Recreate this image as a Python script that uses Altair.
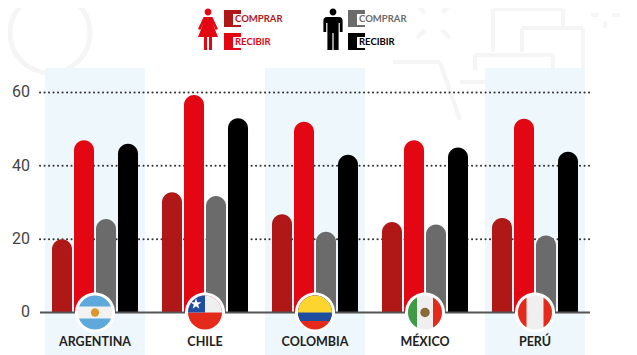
import math
import altair as alt
import pandas as pd

countries = ["ARGENTINA", "CHILE", "COLOMBIA", "MÉXICO", "PERÚ"]
shaded = ["ARGENTINA", "COLOMBIA", "PERÚ"]
series = ["Mujer comprar", "Mujer recibir", "Hombre comprar", "Hombre recibir"]
colors = ["#b01717", "#e30613", "#6b6b6b", "#000000"]
mujer_comprar = [20, 32.8, 26.8, 24.7, 25.8]
mujer_recibir = [47, 59.3, 52, 47, 52.8]
hombre_comprar = [25.5, 31.8, 22, 24, 21]
hombre_recibir = [46, 53, 43, 45, 43.8]
ticks = [0, 20, 40, 60]

FONT = "Lato"
rows = []
for s, vals in zip(series, [mujer_comprar, mujer_recibir, hombre_comprar, hombre_recibir]):
    for c, v in zip(countries, vals):
        rows.append({"pais": c, "serie": s, "valor": v})
df = pd.DataFrame(rows)

xs = alt.Scale(domain=countries, paddingInner=0, paddingOuter=0)
ys = alt.Scale(domain=[-11.59, 83.03], nice=False, zero=False)
X = alt.X("pais:N", scale=xs, axis=None, sort=countries)
Ynone = alt.Y("v:Q", scale=ys, axis=None)

layers = []
one = pd.DataFrame({"k": [1]})

# faint background line art (page coordinates; plot origin is page 40,8)
FAINT = "#f5f5f5"
layers.append(alt.Chart(one).mark_point(shape="circle", size=6400, color=FAINT, strokeWidth=5, opacity=1, filled=False)
              .encode(x=alt.value(10), y=alt.value(25)))
art_lines = [
    (493, 52, 493, 9), (493, 9, 563, 9), (563, 9, 563, 27),
    (522, 52, 522, 28), (522, 28, 583, 28), (583, 28, 583, 68),
    (475, 70, 475, 55), (475, 55, 553, 55), (553, 55, 553, 68), (460, 82, 485, 82),
    (393, 62, 440, 62), (440, 62, 460, 120),
    (417, 5, 425, 13), (450, 5, 442, 13), (417, 38, 425, 30), (450, 38, 442, 30),
    (605, 0, 605, 8), (605, 21, 605, 28), (591, 15, 598, 15), (612, 15, 620, 15),
]
for x1, y1, x2, y2 in art_lines:
    layers.append(alt.Chart(one).mark_rule(color=FAINT, strokeWidth=4)
                  .encode(x=alt.value(x1 - 40), x2=alt.value(x2 - 40), y=alt.value(y1 - 8), y2=alt.value(y2 - 8)))

# shaded bands
layers.append(
    alt.Chart(pd.DataFrame({"pais": shaded, "v": [66.7] * 3, "v0": [-11.59] * 3}))
    .mark_bar(size=100, color="#eef7fc")
    .encode(x=X, y=Ynone, y2="v0:Q")
)

# dotted grid
layers.append(
    alt.Chart(pd.DataFrame({"v": ticks[1:]}))
    .mark_rule(color="#333333", strokeWidth=2, strokeDash=[0.1, 4.4], strokeCap="round")
    .encode(y=Ynone, x=alt.value(0), x2=alt.value(552))
)

# y tick labels
layers.append(
    alt.Chart(pd.DataFrame({"v": ticks}))
    .mark_text(font="Roboto", fontSize=16, color="#444444", align="right", baseline="middle")
    .encode(y=Ynone, x=alt.value(-10), text="v:Q")
)

# bars
layers.append(
    alt.Chart(df)
    .mark_bar(cornerRadiusTopLeft=10, cornerRadiusTopRight=10)
    .encode(
        x=X,
        xOffset=alt.XOffset("serie:N", sort=series,
                            scale=alt.Scale(domain=series, paddingInner=0.09, paddingOuter=0.545)),
        y=alt.Y("valor:Q", scale=ys, axis=None),
        y2=alt.Y2(datum=0),
        color=alt.Color("serie:N", scale=alt.Scale(domain=series, range=colors), legend=None),
    )
)

# baseline
layers.append(
    alt.Chart(pd.DataFrame({"v": [0]}))
    .mark_rule(color="#555555", strokeWidth=2)
    .encode(y=Ynone, x=alt.value(0), x2=alt.value(550))
)

# flags
def f(n):
    return f"{n:.4f}"
def cap_top(y):
    s = math.sqrt(1 - y * y)
    return f"M{f(-s)},{f(y)}A1,1 0 {1 if y > 0 else 0} 1 {f(s)},{f(y)}Z"
def cap_bottom(y):
    s = math.sqrt(1 - y * y)
    return f"M{f(s)},{f(y)}A1,1 0 {1 if y < 0 else 0} 1 {f(-s)},{f(y)}Z"
def cap_left(x):
    s = math.sqrt(1 - x * x)
    return f"M{f(x)},{f(s)}A1,1 0 {1 if x > 0 else 0} 1 {f(x)},{f(-s)}Z"
def cap_right(x):
    s = math.sqrt(1 - x * x)
    return f"M{f(x)},{f(-s)}A1,1 0 {1 if x < 0 else 0} 1 {f(x)},{f(s)}Z"
DISC = "M-1,0A1,1 0 1 1 1,0A1,1 0 1 1 -1,0Z"
CANTON = "M-1,0A1,1 0 0 1 0,-1L0,0Z"

flag_parts = [
    ("ARGENTINA", DISC, "#f2f2f2"), ("ARGENTINA", cap_top(-0.35), "#5fa8dc"), ("ARGENTINA", cap_bottom(0.35), "#5fa8dc"),
    ("CHILE", DISC, "#e52a1c"), ("CHILE", cap_top(0), "#efefef"), ("CHILE", CANTON, "#1f4fa0"),
    ("COLOMBIA", DISC, "#e52a1c"), ("COLOMBIA", cap_top(0.5), "#1f4ea1"), ("COLOMBIA", cap_top(0), "#fcd62e"),
    ("MÉXICO", DISC, "#efefef"), ("MÉXICO", cap_left(-0.47), "#3f9b45"), ("MÉXICO", cap_right(0.47), "#e52a1c"),
    ("PERÚ", DISC, "#efefef"), ("PERÚ", cap_left(-0.5), "#e52a1c"), ("PERÚ", cap_right(0.5), "#e52a1c"),
]
base0 = pd.DataFrame({"pais": countries, "v": [0] * 5})
layers.append(
    alt.Chart(base0).mark_point(shape=DISC, size=1600, filled=True, color="#ffffff", opacity=1)
    .encode(x=X, y=Ynone)
)
for pais, path, col in flag_parts:
    layers.append(
        alt.Chart(pd.DataFrame({"pais": [pais], "v": [0]}))
        .mark_point(shape=path, size=1156, filled=True, color=col, opacity=1, strokeWidth=0)
        .encode(x=X, y=Ynone)
    )
# flag details
layers.append(alt.Chart(pd.DataFrame({"pais": ["ARGENTINA"], "v": [0]}))
              .mark_point(shape="circle", size=70, filled=True, color="#d99a2b", opacity=1).encode(x=X, y=Ynone))
layers.append(alt.Chart(pd.DataFrame({"pais": ["MÉXICO"], "v": [0]}))
              .mark_point(shape="circle", size=90, filled=True, color="#8a6a3a", opacity=1).encode(x=X, y=Ynone))
STAR = "M0,-1L0.235,-0.324L0.951,-0.309L0.38,0.124L0.588,0.809L0,0.4L-0.588,0.809L-0.38,0.124L-0.951,-0.309L-0.235,-0.324Z"
layers.append(alt.Chart(pd.DataFrame({"pais": ["CHILE"], "v": [2.3]}))
              .mark_point(shape=STAR, size=130, filled=True, color="#ffffff", opacity=1, strokeWidth=0,
                          xOffset=-9).encode(x=X, y=Ynone))

# country labels
layers.append(
    alt.Chart(pd.DataFrame({"pais": countries, "v": [-8.1] * 5}))
    .mark_text(font=FONT, fontSize=12.5, fontWeight="bold", color="#222222", baseline="middle")
    .encode(x=X, y=Ynone, text="pais:N")
)

# legend (pixel positions inside the plot: page x minus 40, page y minus 8)
WOMAN = ("M-0.17,-0.9A0.17,0.17 0 1 1 0.17,-0.9A0.17,0.17 0 1 1 -0.17,-0.9Z"
         "M-0.22,-0.65L0.22,-0.65L0.5,-0.05L0.38,0L0.22,-0.35L0.5,0.35L0.2,0.35L0.2,1L0.05,1L0.05,0.35L-0.05,0.35L-0.05,1"
         "L-0.2,1L-0.2,0.35L-0.5,0.35L-0.22,-0.35L-0.38,0L-0.5,-0.05Z")
MAN = ("M-0.17,-0.9A0.17,0.17 0 1 1 0.17,-0.9A0.17,0.17 0 1 1 -0.17,-0.9Z"
       "M-0.3,-0.65L0.3,-0.65Q0.48,-0.65 0.48,-0.45L0.48,0.1L0.34,0.1L0.34,-0.35L0.28,-0.35L0.28,1L0.03,1L0.03,0.15L-0.03,0.15L-0.03,1"
       "L-0.28,1L-0.28,-0.35L-0.34,-0.35L-0.34,0.1L-0.48,0.1L-0.48,-0.45Q-0.48,-0.65 -0.3,-0.65Z")

legend_icons = [(WOMAN, 168, 22, "#e30613"), (MAN, 293, 22, "#000000")]
legend_items = [
    ("COMPRAR", 184, 2, "#b01717"), ("RECIBIR", 184, 25, "#e30613"),
    ("COMPRAR", 308, 2, "#6b6b6b"), ("RECIBIR", 308, 25, "#000000"),
]
for path, px, py, col in legend_icons:
    layers.append(alt.Chart(one).mark_point(shape=path, size=1600, filled=True, color=col, opacity=1, strokeWidth=0)
                  .encode(x=alt.value(px), y=alt.value(py)))
for label, px, py, col in legend_items:
    layers.append(alt.Chart(one).mark_rect(color=col)
                  .encode(x=alt.value(px), x2=alt.value(px + 17), y=alt.value(py), y2=alt.value(py + 17)))
    layers.append(alt.Chart(one).mark_rect(color="#ffffff")
                  .encode(x=alt.value(px + 9), x2=alt.value(px + 18), y=alt.value(py + 4), y2=alt.value(py + 15)))
    layers.append(alt.Chart(one).mark_text(text=label, font=FONT, fontSize=9.5, fontWeight="bold", color=col,
                                           align="left", baseline="middle")
                  .encode(x=alt.value(px + 11), y=alt.value(py + 9)))

chart = (
    alt.layer(*layers)
    .resolve_scale(x="shared", y="shared", color="independent")
    .properties(width=550, height=347, autosize=alt.AutoSizeParams(type="none"),
                padding={"left": 32, "right": 39, "top": 0, "bottom": 0}, background="#ffffff")
    .configure_view(stroke=None)
)
chart.save("out.html", embed_options={"renderer": "svg", "actions": False})
